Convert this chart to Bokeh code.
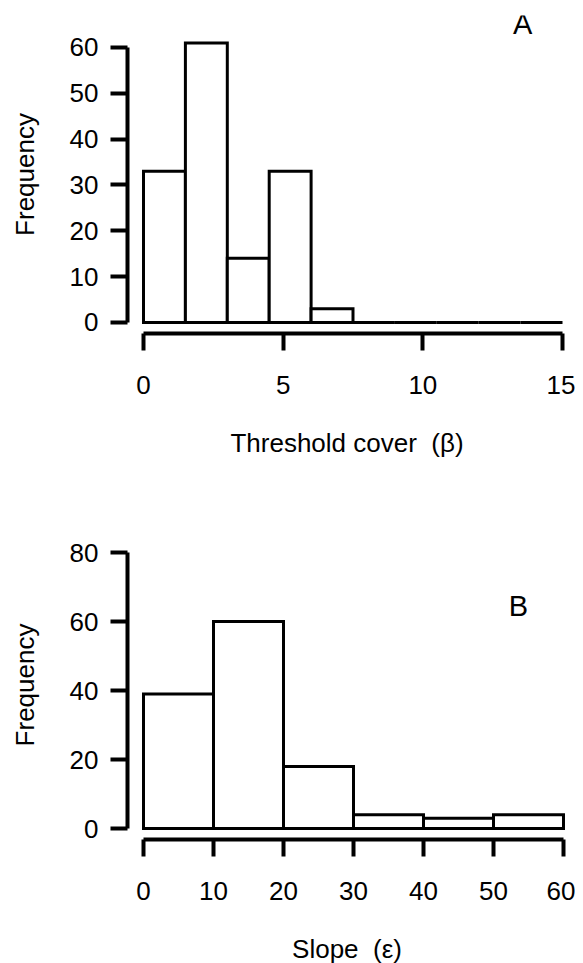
from bokeh.plotting import figure
from bokeh.layouts import column
from bokeh.models import FixedTicker, Label, Range1d
from bokeh.embed import file_html
from bokeh.resources import INLINE

# ---- data ----
a_edges = [0, 1.5, 3, 4.5, 6, 7.5, 9, 10.5, 12, 13.5, 15]
a_counts = [33, 61, 14, 33, 3, 0, 0, 0, 0, 0]
a_xticks = [0, 5, 10, 15]
a_yticks = [0, 10, 20, 30, 40, 50, 60]

b_edges = [0, 10, 20, 30, 40, 50, 60]
b_counts = [39, 60, 18, 4, 3, 4]
b_xticks = [0, 10, 20, 30, 40, 50, 60]
b_yticks = [0, 20, 40, 60, 80]

FONT = "Liberation Sans"


def make_panel(edges, counts, xticks, yticks, xr, yr, xlabel, tag, tag_xy,
               border_top, frame_h, border_bottom):
    p = figure(output_backend="svg", toolbar_location=None,
               frame_width=439, frame_height=frame_h,
               min_border_left=127, min_border_right=9,
               min_border_top=border_top, min_border_bottom=border_bottom,
               x_range=Range1d(*xr), y_range=Range1d(*yr),
               background_fill_color="white", border_fill_color="white")
    p.outline_line_color = None
    p.grid.visible = False

    p.quad(left=edges[:-1], right=edges[1:], top=counts, bottom=0,
           fill_color="white", line_color="black", line_width=3,
           line_join="miter")

    for ax, ticks, bounds in ((p.xaxis[0], xticks, (xticks[0], xticks[-1])),
                              (p.yaxis[0], yticks, (yticks[0], yticks[-1]))):
        ax.ticker = FixedTicker(ticks=ticks)
        ax.bounds = bounds
        ax.axis_line_width = 4
        ax.axis_line_color = "black"
        ax.major_tick_line_width = 4
        ax.major_tick_line_color = "black"
        ax.major_tick_in = 0
        ax.major_tick_out = 17
        ax.minor_tick_line_color = None
        ax.major_label_text_font = FONT
        ax.major_label_text_font_size = "26px"
        ax.major_label_text_color = "black"
        ax.axis_label_text_font = FONT
        ax.axis_label_text_font_size = "26px"
        ax.axis_label_text_font_style = "normal"
        ax.axis_label_text_color = "black"

    p.xaxis.major_label_standoff = 25
    p.xaxis.axis_label = xlabel
    p.xaxis.axis_label_standoff = 31
    p.yaxis.major_label_standoff = 12
    p.yaxis.axis_label = "Frequency"
    p.yaxis.axis_label_standoff = 27

    p.add_layout(Label(x=tag_xy[0], y=tag_xy[1], text=tag,
                       text_align="center", text_baseline="middle",
                       text_font=FONT, text_font_size="29px",
                       text_color="black"))
    return p


pA = make_panel(a_edges, a_counts, a_xticks, a_yticks,
                (-0.5728, 15.143), (-2.4, 66.98),
                "Threshold cover\u00a0\u00a0(\u03b2)", "A", (13.57, 65.1),
                15, 318, 167)
pB = make_panel(b_edges, b_counts, b_xticks, b_yticks,
                (-2.2857, 60.43), (-3.188, 86.38),
                "Slope\u00a0\u00a0(\u03b5)", "B", (53.57, 64.6),
                30, 309, 118)

layout = column(pA, pB, spacing=0)
open("out.html", "w").write(file_html(layout, INLINE))
